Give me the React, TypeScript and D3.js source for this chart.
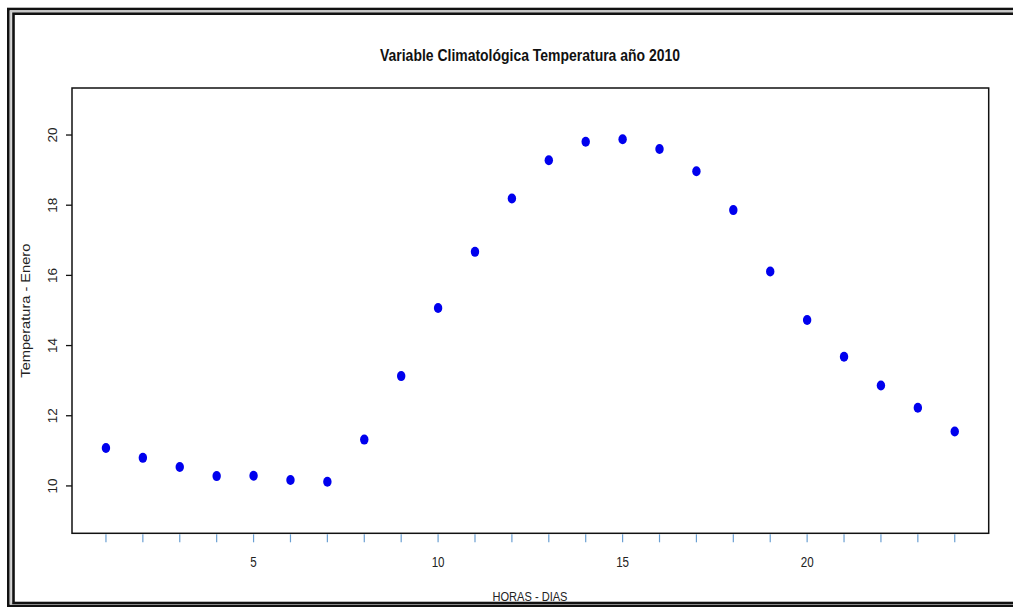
import React from "react";
import * as d3 from "d3";

// Hourly temperature readings for January (hour 1..24)
const hours = [1, 2, 3, 4, 5, 6, 7, 8, 9, 10, 11, 12, 13, 14, 15, 16, 17, 18, 19, 20, 21, 22, 23, 24];
const temperatures = [
  11.08, 10.8, 10.54, 10.28, 10.29, 10.17, 10.12, 11.32, 13.13, 15.07, 16.67, 18.19,
  19.28, 19.81, 19.88, 19.6, 18.97, 17.86, 16.11, 14.73, 13.68, 12.86, 12.23, 11.55,
];
const xTickLabels = [5, 10, 15, 20];
const yTickValues = [10, 12, 14, 16, 18, 20];

const title = "Variable Climatológica Temperatura año 2010";
const xTitle = "HORAS - DIAS";
const yTitle = "Temperatura - Enero";

const W = 1013;
const H = 607;
const plot = { left: 72, right: 988.7, top: 88, bottom: 533.3 };
const font = "'Liberation Sans', Arial, sans-serif";

export default function App() {
  const x = d3.scaleLinear().domain([0.08, 24.92]).range([plot.left, plot.right]);
  const y = d3.scaleLinear().domain([8.65, 21.34]).range([plot.bottom, plot.top]);

  return (
    <svg
      width={W}
      height={H}
      style={{ position: "absolute", left: 0, top: 0, background: "#fff" }}
    >
      {/* double frame */}
      <rect x={8.3} y={9} width={1200} height={597} fill="none" stroke="#111" strokeWidth={2.6} />
      <rect x={10.8} y={11.3} width={1200} height={592.2} fill="none" stroke="#c8c8c8" strokeWidth={1.8} />
      <rect x={13.5} y={13.7} width={1200} height={589.3} fill="none" stroke="#111" strokeWidth={2.6} />

      <text
        x={530}
        y={60.5}
        textAnchor="middle"
        fontFamily={font}
        fontWeight="bold"
        fontSize={16}
        textLength={300}
        lengthAdjust="spacingAndGlyphs"
        fill="#111"
      >
        {title}
      </text>

      {/* plot box */}
      <rect
        x={plot.left}
        y={plot.top}
        width={plot.right - plot.left}
        height={plot.bottom - plot.top}
        fill="none"
        stroke="#111"
        strokeWidth={1.5}
      />

      {/* y axis */}
      {yTickValues.map((v) => (
        <g key={`y${v}`}>
          <line x1={66} x2={plot.left} y1={y(v)} y2={y(v)} stroke="#111" strokeWidth={1.3} />
          <text
            transform={`translate(57,${y(v)}) rotate(-90)`}
            textAnchor="middle"
            fontFamily={font}
            fontSize={13.5}
            fill="#222"
          >
            {v}
          </text>
        </g>
      ))}

      {/* x axis */}
      {hours.map((h) => (
        <line
          key={`xt${h}`}
          x1={x(h)}
          x2={x(h)}
          y1={plot.bottom + 1}
          y2={plot.bottom + 9}
          stroke="#6a9fd2"
          strokeWidth={1.2}
        />
      ))}
      {xTickLabels.map((v) => (
        <text
          key={`xl${v}`}
          transform={`translate(${x(v)},567) scale(0.8,1)`}
          textAnchor="middle"
          fontFamily={font}
          fontSize={14.5}
          fill="#222"
        >
          {v}
        </text>
      ))}

      <text
        x={530}
        y={601}
        textAnchor="middle"
        fontFamily={font}
        fontSize={12}
        textLength={75}
        lengthAdjust="spacingAndGlyphs"
        fill="#222"
      >
        {xTitle}
      </text>
      <text
        transform={`translate(29.5,${(plot.top + plot.bottom) / 2}) rotate(-90)`}
        textAnchor="middle"
        fontFamily={font}
        fontSize={12.5}
        textLength={134}
        lengthAdjust="spacingAndGlyphs"
        fill="#222"
      >
        {yTitle}
      </text>

      {/* points */}
      {hours.map((h, i) => (
        <ellipse key={`p${h}`} cx={x(h)} cy={y(temperatures[i])} rx={4.2} ry={5} fill="#0000ee" />
      ))}
    </svg>
  );
}
